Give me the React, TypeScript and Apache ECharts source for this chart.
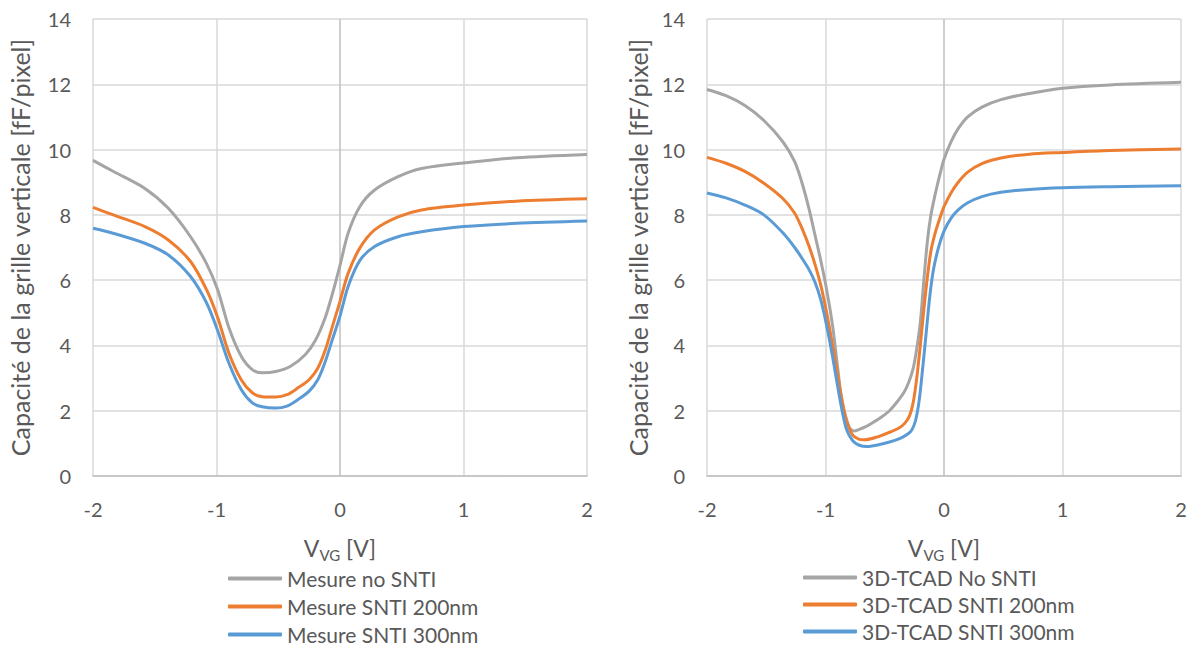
import React, { useEffect, useRef } from "react";
import * as echarts from "echarts";

// ---- Left chart: measurements ----
const mesNoV = [-2, -1.83, -1.58, -1.39, -1.21, -1.08, -0.99, -0.9, -0.8, -0.71, -0.63, -0.52, -0.4, -0.28, -0.2, -0.12, -0.06, 0, 0.065, 0.16, 0.28, 0.47, 0.66, 1.0, 1.43, 2];
const mesNoC = [9.67, 9.32, 8.81, 8.2, 7.33, 6.5, 5.7, 4.55, 3.67, 3.26, 3.16, 3.2, 3.36, 3.72, 4.15, 4.85, 5.6, 6.45, 7.43, 8.25, 8.76, 9.17, 9.42, 9.59, 9.75, 9.85];
const mes200V = [-2, -1.83, -1.58, -1.39, -1.21, -1.08, -0.99, -0.9, -0.8, -0.71, -0.63, -0.52, -0.43, -0.34, -0.25, -0.18, -0.12, -0.06, 0, 0.065, 0.16, 0.28, 0.47, 0.66, 1.0, 1.43, 2];
const mes200C = [8.23, 7.99, 7.64, 7.23, 6.57, 5.7, 4.85, 3.77, 2.95, 2.55, 2.43, 2.42, 2.49, 2.7, 2.95, 3.3, 3.85, 4.6, 5.35, 6.2, 6.98, 7.54, 7.94, 8.15, 8.3, 8.42, 8.49];
const mes300V = mes200V;
const mes300C = [7.59, 7.43, 7.13, 6.77, 6.11, 5.3, 4.45, 3.46, 2.65, 2.24, 2.12, 2.08, 2.14, 2.34, 2.6, 2.95, 3.5, 4.2, 4.9, 5.8, 6.6, 7.03, 7.33, 7.48, 7.64, 7.74, 7.81];

// ---- Right chart: 3D-TCAD ----
const tcadNoV = [-2, -1.84, -1.68, -1.52, -1.36, -1.26, -1.2, -1.14, -1.09, -1.04, -0.99, -0.94, -0.9, -0.86, -0.8, -0.76, -0.72, -0.66, -0.6, -0.53, -0.46, -0.4, -0.34, -0.3, -0.26, -0.23, -0.2, -0.17, -0.14, -0.11, -0.07, -0.03, 0, 0.06, 0.12, 0.2, 0.32, 0.48, 0.72, 1.0, 1.4, 2.0];
const tcadNoC = [11.84, 11.65, 11.35, 10.89, 10.24, 9.63, 9.0, 8.2, 7.4, 6.6, 5.7, 4.6, 3.4, 2.3, 1.5, 1.38, 1.42, 1.51, 1.64, 1.8, 2.0, 2.25, 2.55, 2.85, 3.3, 3.9, 4.7, 6.0, 7.2, 8.0, 8.7, 9.3, 9.7, 10.24, 10.64, 11.0, 11.3, 11.53, 11.72, 11.88, 11.98, 12.06];
const tcad200V = [-2, -1.84, -1.68, -1.52, -1.36, -1.26, -1.2, -1.14, -1.09, -1.04, -0.99, -0.94, -0.9, -0.86, -0.82, -0.77, -0.72, -0.67, -0.56, -0.46, -0.38, -0.33, -0.29, -0.26, -0.23, -0.2, -0.17, -0.14, -0.11, -0.07, -0.03, 0, 0.06, 0.12, 0.2, 0.32, 0.48, 0.72, 1.0, 1.4, 2.0];
const tcad200C = [9.76, 9.58, 9.33, 8.97, 8.5, 8.05, 7.6, 7.05, 6.5, 5.85, 5.0, 4.0, 3.15, 2.3, 1.65, 1.25, 1.13, 1.11, 1.2, 1.34, 1.47, 1.62, 1.85, 2.25, 3.0, 4.0, 5.1, 6.1, 6.9, 7.5, 7.95, 8.25, 8.68, 9.0, 9.31, 9.57, 9.74, 9.86, 9.91, 9.97, 10.02];
const tcad300V = [-2, -1.84, -1.68, -1.52, -1.36, -1.26, -1.2, -1.14, -1.09, -1.04, -0.99, -0.94, -0.9, -0.86, -0.82, -0.77, -0.72, -0.65, -0.56, -0.46, -0.36, -0.3, -0.27, -0.24, -0.21, -0.18, -0.15, -0.12, -0.09, -0.05, 0, 0.06, 0.12, 0.2, 0.32, 0.48, 0.72, 1.0, 1.4, 2.0];
const tcad300C = [8.67, 8.52, 8.3, 8.0, 7.45, 7.0, 6.68, 6.33, 5.95, 5.4, 4.6, 3.65, 2.8, 2.0, 1.4, 1.08, 0.95, 0.9, 0.95, 1.04, 1.17, 1.3, 1.42, 1.7, 2.3, 3.3, 4.4, 5.5, 6.3, 6.95, 7.5, 7.9, 8.15, 8.37, 8.56, 8.69, 8.78, 8.83, 8.86, 8.89];

const xTicks = [-2, -1, 0, 1, 2];
const yMin = 0, yMax = 14, yStep = 2;

const leftNames = ["Mesure no SNTI", "Mesure SNTI 200nm", "Mesure SNTI 300nm"];
const rightNames = ["3D-TCAD No SNTI", "3D-TCAD SNTI 200nm", "3D-TCAD SNTI 300nm"];
const colors = ["#a5a5a5", "#ed7d31", "#5b9bd5"];

const yTitle = "Capacité de la grille verticale [fF/pixel]";
const FONT = "Lato, 'Open Sans', sans-serif";
const TXT = "#595959";

const zip = (xs: number[], ys: number[]) => xs.map((x, i) => [x, ys[i]]);

export default function App() {
  const ref = useRef<HTMLDivElement>(null);
  useEffect(() => {
    if (!ref.current) return;
    const chart = echarts.init(ref.current, null, { renderer: "svg" });
    const xAxisBase = (gridIndex: number) => ({
      type: "value",
      gridIndex,
      min: xTicks[0],
      max: xTicks[xTicks.length - 1],
      interval: 1,
      name: "{a|V}{b|VG}{a| [V]}",
      nameLocation: "middle",
      nameGap: 58,
      nameTextStyle: {
        rich: {
          a: { fontSize: 23, color: TXT, fontFamily: FONT, lineHeight: 28 },
          b: { fontSize: 15, color: TXT, fontFamily: FONT, lineHeight: 28, padding: [13, 0, 0, 0] },
        },
      },
      axisLine: { show: true, lineStyle: { color: "#bfbfbf", width: 1.5 } },
      axisTick: { show: false },
      axisLabel: { color: TXT, fontSize: 20, fontFamily: FONT, margin: 23 },
      splitLine: {
        show: true,
        lineStyle: { color: ["#d9d9d9", "#d9d9d9", "#bfbfbf", "#d9d9d9", "#d9d9d9"], width: 1.5 },
      },
    });
    const yAxisBase = (gridIndex: number, gap: number) => ({
      type: "value",
      gridIndex,
      min: yMin,
      max: yMax,
      interval: yStep,
      name: yTitle,
      nameLocation: "middle",
      nameGap: gap,
      nameRotate: 90,
      nameTextStyle: { fontSize: 25, color: TXT, fontFamily: FONT },
      axisLine: { show: false },
      axisTick: { show: false },
      axisLabel: { color: TXT, fontSize: 20, fontFamily: FONT, margin: 22 },
      splitLine: { show: true, lineStyle: { color: "#d9d9d9", width: 1.5 } },
    });
    const mk = (name: string, xs: number[], ys: number[], color: string, idx: number) => ({
      name,
      type: "line",
      xAxisIndex: idx,
      yAxisIndex: idx,
      data: zip(xs, ys),
      symbol: "none",
      showSymbol: false,
      smooth: 0.3,
      lineStyle: { color, width: 3 },
      itemStyle: { color },
    });
    const legendBase = (names: string[], left: number, top: number, gap: number) => ({
      data: names,
      orient: "vertical",
      left,
      top,
      padding: 0,
      icon: "roundRect",
      itemWidth: 54,
      itemHeight: 4,
      itemGap: gap,
      textStyle: { fontSize: 21, color: TXT, fontFamily: FONT, lineHeight: 21 },
    });
    chart.setOption({
      animation: false,
      backgroundColor: "#ffffff",
      grid: [
        { left: 93, top: 19, width: 494, height: 457 },
        { left: 707, top: 19, width: 474, height: 457 },
      ],
      xAxis: [xAxisBase(0), xAxisBase(1)],
      yAxis: [yAxisBase(0, 61), yAxisBase(1, 57)],
      legend: [legendBase(leftNames, 228, 568, 7), legendBase(rightNames, 803, 567, 6)],
      series: [
        mk(leftNames[0], mesNoV, mesNoC, colors[0], 0),
        mk(leftNames[1], mes200V, mes200C, colors[1], 0),
        mk(leftNames[2], mes300V, mes300C, colors[2], 0),
        mk(rightNames[0], tcadNoV, tcadNoC, colors[0], 1),
        mk(rightNames[1], tcad200V, tcad200C, colors[1], 1),
        mk(rightNames[2], tcad300V, tcad300C, colors[2], 1),
      ],
    });
    return () => chart.dispose();
  }, []);
  return (
    <div
      ref={ref}
      style={{ position: "absolute", left: 0, top: 0, width: 1192, height: 648 }}
    />
  );
}
